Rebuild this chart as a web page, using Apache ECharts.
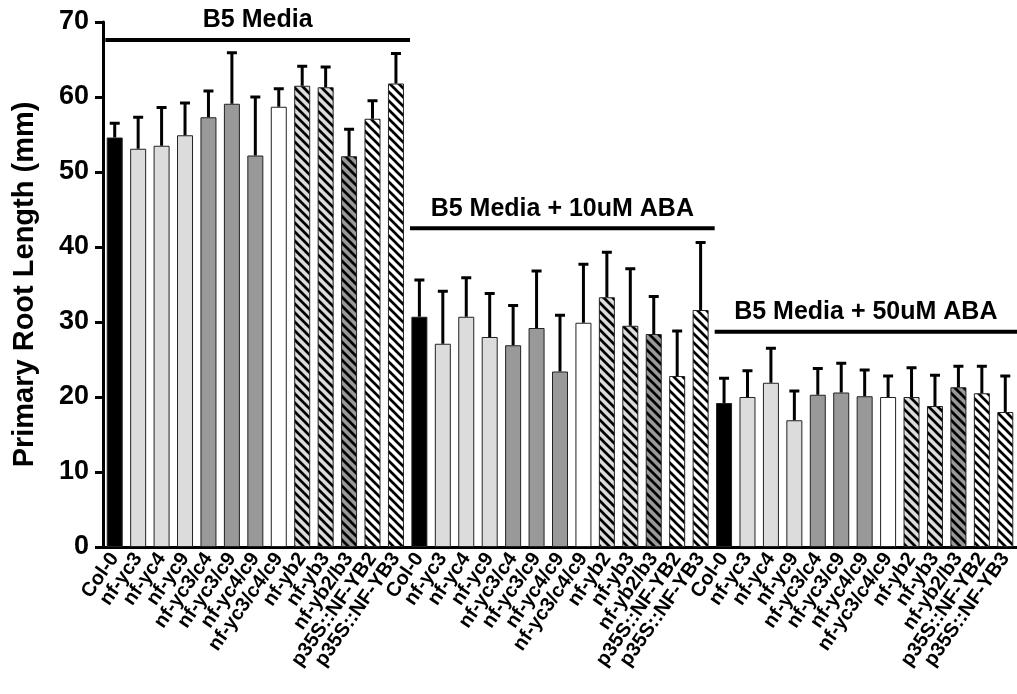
<!DOCTYPE html>
<html>
<head>
<meta charset="utf-8">
<script src="https://cdn.jsdelivr.net/npm/echarts@6/dist/echarts.min.js"></script>
<style>
html,body{margin:0;padding:0;background:#fff;}
#chart{width:1017px;height:694px;}
</style>
</head>
<body>
<div id="chart"></div>
<script>
// ---- data ----
const genotypes = ['Col-0','nf-yc3','nf-yc4','nf-yc9','nf-yc3/c4','nf-yc3/c9','nf-yc4/c9','nf-yc3/c4/c9','nf-yb2','nf-yb3','nf-yb2/b3','p35S::NF-YB2','p35S::NF-YB3'];
const conditions = ['B5 Media','B5 Media + 10uM ABA','B5 Media + 50uM ABA'];
const meansB5     = [54.6,53.1,53.5,54.9,57.3,59.1,52.2,58.7,61.5,61.3,52.1,57.1,61.8];
const upperB5     = [56.5,57.3,58.6,59.2,60.8,65.9,60.0,61.1,64.1,64.0,55.7,59.5,65.8];
const meansABA10  = [30.7,27.1,30.7,28.0,26.9,29.2,23.4,29.9,33.3,29.5,28.4,22.8,31.6];
const upperABA10  = [35.6,34.1,35.9,33.8,32.2,36.8,30.9,37.7,39.3,37.1,33.4,28.8,40.6];
const meansABA50  = [19.2,20.0,21.9,16.9,20.3,20.6,20.1,20.0,20.0,18.8,21.3,20.5,18.0];
const upperABA50  = [22.5,23.5,26.5,20.8,23.8,24.5,23.6,22.8,23.9,22.9,24.1,24.1,22.8];
const bracketLevels = [67.6, 42.5, 28.7];
const yTicks = [0,10,20,30,40,50,60,70];

// fill style per genotype: [background, hatched]
const fills = [
  ['#000000', false],
  ['#dcdcdc', false],['#dcdcdc', false],['#dcdcdc', false],
  ['#999999', false],['#999999', false],['#999999', false],
  ['#ffffff', false],
  ['#dcdcdc', true],['#dcdcdc', true],
  ['#999999', true],
  ['#ffffff', true],['#ffffff', true]
];

function hatch(bg){
  const s = 9;
  const c = document.createElement('canvas');
  c.width = s; c.height = s;
  const g = c.getContext('2d');
  g.fillStyle = bg; g.fillRect(0,0,s,s);
  g.strokeStyle = '#000'; g.lineWidth = 2.7;
  g.beginPath();
  g.moveTo(-2,-2); g.lineTo(s+2,s+2);
  g.moveTo(-2,s-2); g.lineTo(2,s+2);
  g.moveTo(s-2,-2); g.lineTo(s+2,2);
  g.stroke();
  return {image: c, repeat: 'repeat'};
}

const allMeans = [meansB5, meansABA10, meansABA50];
const allUpper = [upperB5, upperABA10, upperABA50];
const categories = [];
const barData = [];
const errData = [];
allMeans.forEach((arr, gi) => {
  arr.forEach((v, i) => {
    const idx = categories.length;
    categories.push(genotypes[i]);
    const f = fills[i];
    barData.push({value: v, itemStyle: {color: f[1] ? hatch(f[0]) : f[0]}});
    errData.push([idx, v, allUpper[gi][i]]);
  });
});
const n = genotypes.length;
const bracketData = conditions.map((c, gi) => [gi*n, gi*n + n - 1, bracketLevels[gi], c]);

const FONT = '"Liberation Sans", Arial, sans-serif';
const chart = echarts.init(document.getElementById('chart'), null, {renderer: 'canvas'});
chart.setOption({
  animation: false,
  backgroundColor: '#fff',
  grid: {left: 103, width: 917, top: 22, bottom: 147, containLabel: false},
  xAxis: {
    type: 'category',
    data: categories,
    axisLine: {lineStyle: {color: '#000', width: 3}},
    axisTick: {alignWithLabel: true, length: 10, lineStyle: {color: '#000', width: 3}},
    axisLabel: {interval: 0, rotate: 55, margin: 8, color: '#000', fontFamily: FONT, fontWeight: 'bold', fontSize: 20},
    splitLine: {show: false}
  },
  yAxis: {
    type: 'value',
    min: yTicks[0], max: yTicks[yTicks.length-1], interval: 10,
    name: 'Primary Root Length (mm)',
    nameLocation: 'middle',
    nameGap: 64,
    nameTextStyle: {color: '#000', fontFamily: FONT, fontWeight: 'bold', fontSize: 29},
    axisLine: {show: true, lineStyle: {color: '#000', width: 3}},
    axisTick: {show: true, length: 8, lineStyle: {color: '#000', width: 3}},
    axisLabel: {color: '#000', fontFamily: FONT, fontWeight: 'bold', fontSize: 27, margin: 14},
    splitLine: {show: false}
  },
  series: [
    {
      type: 'bar',
      data: barData,
      barWidth: 16,
      itemStyle: {borderColor: '#222', borderWidth: 1},
      z: 2
    },
    {
      type: 'custom',
      data: errData,
      z: 3,
      renderItem: function(params, api){
        const x = api.value(0);
        const p0 = api.coord([x, api.value(1)]);
        const p1 = api.coord([x, api.value(2)]);
        const half = 5;
        return {
          type: 'group',
          children: [
            {type: 'line', shape: {x1: p0[0], y1: p0[1], x2: p1[0], y2: p1[1]}, style: {stroke: '#000', lineWidth: 3}},
            {type: 'line', shape: {x1: p1[0]-half, y1: p1[1], x2: p1[0]+half, y2: p1[1]}, style: {stroke: '#000', lineWidth: 3}}
          ]
        };
      }
    },
    {
      type: 'custom',
      data: bracketData,
      z: 4,
      clip: false,
      renderItem: function(params, api){
        const band = api.size([1, 0])[0];
        const a = api.coord([api.value(0), api.value(2)]);
        const b = api.coord([api.value(1), api.value(2)]);
        const x1 = a[0] - 0.4*band;
        const x2 = Math.min(b[0] + 0.6*band, 1017);
        return {
          type: 'group',
          children: [
            {type: 'line', shape: {x1: x1, y1: a[1], x2: x2, y2: a[1]}, style: {stroke: '#000', lineWidth: 4}},
            {type: 'text', style: {x: (x1+x2)/2, y: a[1]-7, text: bracketData[params.dataIndex][3], textAlign: 'center', textVerticalAlign: 'bottom', fill: '#000', font: 'bold 25px ' + FONT}}
          ]
        };
      }
    }
  ]
});
</script>
</body>
</html>
